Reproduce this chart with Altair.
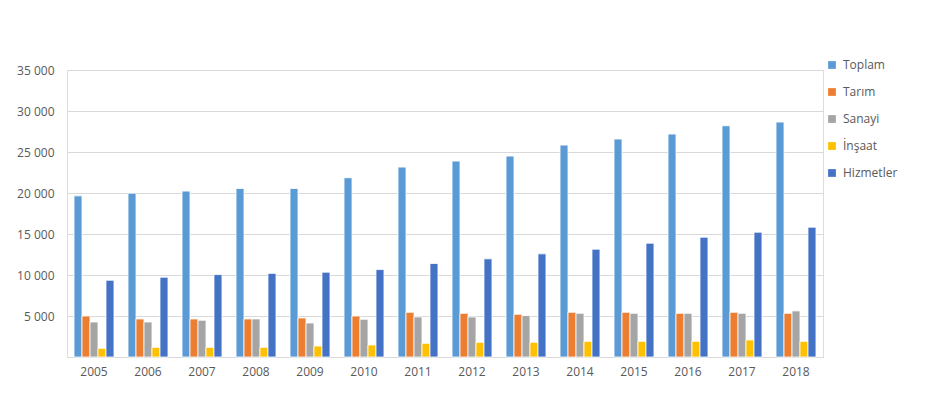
import altair as alt
import pandas as pd

years = [str(y) for y in range(2005, 2019)]
series = ["Toplam", "Tarım", "Sanayi", "İnşaat", "Hizmetler"]
colors = ["#5B9BD5", "#ED7D31", "#A5A5A5", "#FFC000", "#4472C4"]

toplam = [19650, 19980, 20230, 20550, 20550, 21860, 23160, 23890, 24500, 25840, 26580, 27190, 28200, 28650]
tarim = [5000, 4640, 4640, 4640, 4760, 5000, 5450, 5330, 5210, 5450, 5450, 5330, 5450, 5330]
sanayi = [4270, 4270, 4480, 4640, 4150, 4600, 4880, 4880, 5050, 5330, 5330, 5330, 5330, 5620]
insaat = [1060, 1180, 1180, 1180, 1340, 1470, 1670, 1790, 1790, 1910, 1910, 1910, 2080, 1910]
hizmetler = [9360, 9730, 10050, 10200, 10340, 10660, 11400, 11970, 12580, 13150, 13880, 14610, 15220, 15830]

values = [toplam, tarim, sanayi, insaat, hizmetler]
rows = []
for s, vals in zip(series, values):
    for y, v in zip(years, vals):
        rows.append({"Yıl": y, "Seri": s, "Değer": v})
df = pd.DataFrame(rows)

font = "Open Sans"

chart = alt.Chart(df).mark_bar(stroke="white", strokeWidth=0.8).encode(
    x=alt.X("Yıl:N", sort=years, title=None,
            scale=alt.Scale(paddingInner=0.26, paddingOuter=0.13),
            axis=alt.Axis(labelAngle=0, ticks=False, domain=True, domainColor="#d9d9d9",
                          labelColor="#595959", labelFontSize=12, labelFont=font,
                          labelPadding=9)),
    xOffset=alt.XOffset("Seri:N", sort=series, scale=alt.Scale(paddingInner=0, paddingOuter=0)),
    y=alt.Y("Değer:Q", title=None,
            scale=alt.Scale(domain=[0, 35000], nice=False),
            axis=alt.Axis(values=[0, 5000, 10000, 15000, 20000, 25000, 30000, 35000],
                          labelExpr="datum.value == 0 ? '' : replace(format(datum.value, ','), ',', ' ')",
                          ticks=False, domain=False, gridColor="#d9d9d9", gridWidth=1,
                          labelColor="#595959", labelFontSize=12, labelFont=font,
                          labelPadding=13)),
    color=alt.Color("Seri:N", sort=series,
                    scale=alt.Scale(domain=series, range=colors),
                    legend=alt.Legend(title=None, orient="none", legendX=759, legendY=-11,
                                      symbolType="square", symbolSize=60, symbolStrokeWidth=0,
                                      labelFontSize=12, labelFont=font, labelColor="#595959",
                                      rowPadding=15, labelOffset=5)),
).properties(
    width=756, height=287,
    autosize=alt.AutoSizeParams(type="none"),
    padding={"left": 59, "top": 62, "right": 108, "bottom": 28},
).configure_view(stroke=None).configure(background="white")

chart.save("out.html", embed_options={"renderer": "svg", "actions": False})
